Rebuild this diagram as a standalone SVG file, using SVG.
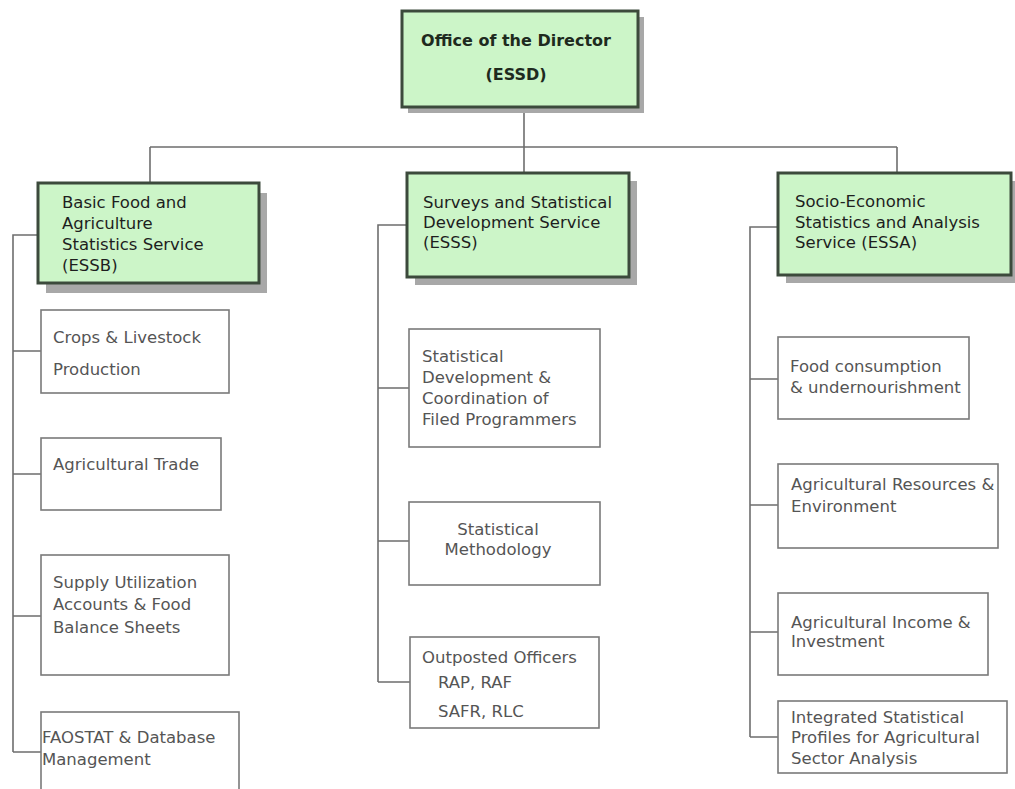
<svg xmlns="http://www.w3.org/2000/svg" width="1015" height="789" viewBox="0 0 1015 789">
  <style>
    .shadow { fill: #a8a8a8; }
    .head { fill: #ccf5c8; stroke: #3c4a3c; stroke-width: 3; }
    .unit { fill: #ffffff; stroke: #7a7a7a; stroke-width: 1.6; }
    .link { fill: none; stroke: #6e6e6e; stroke-width: 1.6; }
    text { font-family: "DejaVu Sans", "Liberation Sans", sans-serif; font-size: 16.5px; }
    .ht { fill: #1e1e1e; }
    .title { fill: #1e2a1e; font-weight: bold; font-size: 16px; }
    .bt { fill: #555555; }
  </style>

  <rect width="1015" height="789" fill="#ffffff"/>

  <!-- connectors -->
  <g id="connectors">
    <path class="link" d="M524 107 V147 M150 147 H897 M150 147 V183 M524 147 V173 M897 147 V173"/>
    <path class="link" d="M38 235 H13 V752 M13 351 H41 M13 474 H41 M13 616 H41 M13 752 H41"/>
    <path class="link" d="M407 225 H378 V682 M378 388 H409 M378 541 H409 M378 682 H410"/>
    <path class="link" d="M778 227 H750 V737 M750 379 H778 M750 505 H778 M750 632 H778 M750 737 H778"/>
  </g>

  <!-- director -->
  <g id="essd">
    <rect class="shadow" x="408" y="17" width="236" height="96"/>
    <rect class="head" x="402" y="11" width="236" height="96"/>
    <text class="title" x="516" y="46" text-anchor="middle">Office of the Director</text>
    <text class="title" x="516" y="80" text-anchor="middle">(ESSD)</text>
  </g>

  <!-- service heads -->
  <g id="essb">
    <rect class="shadow" x="46" y="193" width="221" height="100"/>
    <rect class="head" x="38" y="183" width="221" height="100"/>
    <text class="ht" x="62" y="208">Basic Food and</text>
    <text class="ht" x="62" y="229">Agriculture</text>
    <text class="ht" x="62" y="250">Statistics Service</text>
    <text class="ht" x="62" y="271">(ESSB)</text>
  </g>

  <g id="esss">
    <rect class="shadow" x="415" y="181" width="222" height="104"/>
    <rect class="head" x="407" y="173" width="222" height="104"/>
    <text class="ht" x="423" y="208">Surveys and Statistical</text>
    <text class="ht" x="423" y="228">Development Service</text>
    <text class="ht" x="423" y="248">(ESSS)</text>
  </g>

  <g id="essa">
    <rect class="shadow" x="786" y="181" width="229" height="102"/>
    <rect class="head" x="778" y="173" width="233" height="102"/>
    <text class="ht" x="795" y="207">Socio-Economic</text>
    <text class="ht" x="795" y="228">Statistics and Analysis</text>
    <text class="ht" x="795" y="248">Service (ESSA)</text>
  </g>

  <!-- ESSB units -->
  <g id="crops">
    <rect class="unit" x="41" y="310" width="188" height="83"/>
    <text class="bt" x="53" y="343">Crops &amp; Livestock</text>
    <text class="bt" x="53" y="375">Production</text>
  </g>
  <g id="trade">
    <rect class="unit" x="41" y="438" width="180" height="72"/>
    <text class="bt" x="53" y="470">Agricultural Trade</text>
  </g>
  <g id="supply">
    <rect class="unit" x="41" y="555" width="188" height="120"/>
    <text class="bt" x="53" y="588">Supply Utilization</text>
    <text class="bt" x="53" y="610">Accounts &amp; Food</text>
    <text class="bt" x="53" y="633">Balance Sheets</text>
  </g>
  <g id="faostat">
    <rect class="unit" x="41" y="712" width="198" height="90"/>
    <text class="bt" x="42" y="743">FAOSTAT &amp; Database</text>
    <text class="bt" x="42" y="765">Management</text>
  </g>

  <!-- ESSS units -->
  <g id="statdev">
    <rect class="unit" x="409" y="329" width="191" height="118"/>
    <text class="bt" x="422" y="362">Statistical</text>
    <text class="bt" x="422" y="383">Development &amp;</text>
    <text class="bt" x="422" y="404">Coordination of</text>
    <text class="bt" x="422" y="425">Filed Programmers</text>
  </g>
  <g id="method">
    <rect class="unit" x="409" y="502" width="191" height="83"/>
    <text class="bt" x="498" y="535" text-anchor="middle">Statistical</text>
    <text class="bt" x="498" y="555" text-anchor="middle">Methodology</text>
  </g>
  <g id="outposted">
    <rect class="unit" x="410" y="637" width="189" height="91"/>
    <text class="bt" x="422" y="663">Outposted Officers</text>
    <text class="bt" x="438" y="688">RAP, RAF</text>
    <text class="bt" x="438" y="717">SAFR, RLC</text>
  </g>

  <!-- ESSA units -->
  <g id="food">
    <rect class="unit" x="778" y="337" width="191" height="82"/>
    <text class="bt" x="790" y="372">Food consumption</text>
    <text class="bt" x="790" y="393">&amp; undernourishment</text>
  </g>
  <g id="resources">
    <rect class="unit" x="778" y="464" width="220" height="84"/>
    <text class="bt" x="791" y="490">Agricultural Resources &amp;</text>
    <text class="bt" x="791" y="512">Environment</text>
  </g>
  <g id="income">
    <rect class="unit" x="778" y="593" width="210" height="82"/>
    <text class="bt" x="791" y="628">Agricultural Income &amp;</text>
    <text class="bt" x="791" y="647">Investment</text>
  </g>
  <g id="profiles">
    <rect class="unit" x="778" y="701" width="229" height="72"/>
    <text class="bt" x="791" y="723">Integrated Statistical</text>
    <text class="bt" x="791" y="743">Profiles for Agricultural</text>
    <text class="bt" x="791" y="764">Sector Analysis</text>
  </g>
</svg>
